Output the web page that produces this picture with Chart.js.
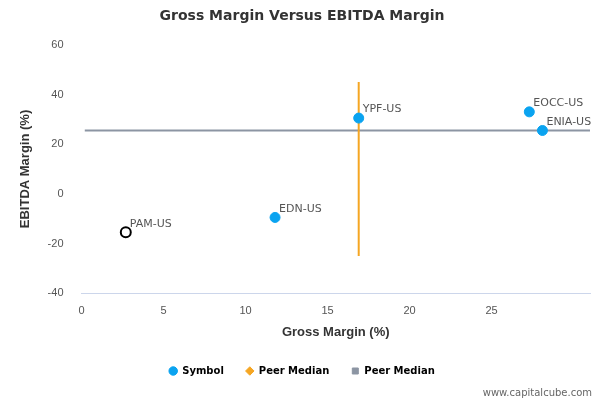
<!DOCTYPE html>
<html><head><meta charset="utf-8">
<script src="https://cdn.jsdelivr.net/npm/chart.js@4/dist/chart.umd.min.js"></script>
<style>body{margin:0;background:#fff}#w{width:600px;height:400px;position:relative}</style>
</head><body><div id="w"><canvas id="c"></canvas></div>
<script>
const symbols=["PAM-US","EDN-US","YPF-US","EOCC-US","ENIA-US"];
const grossMargin=[2.7,11.8,16.9,27.3,28.1];
const ebitdaMargin=[-15.5,-9.5,30.5,33,25.5];
const peerMedianX=16.9, peerMedianY=25.5;
const vLineY=[-25,45];
const hLineX=[0.2,31];
const pts=symbols.map((s,i)=>({x:grossMargin[i],y:ebitdaMargin[i]}));
const labelPlugin={id:'lbl',afterDatasetsDraw(ch){
  const c=ch.ctx,xs=ch.scales.x,ys=ch.scales.y;
  c.save();c.font='11px "DejaVu Sans",sans-serif';c.fillStyle='#555';c.textBaseline='bottom';
  symbols.forEach((s,i)=>c.fillText(s,xs.getPixelForValue(grossMargin[i])+4,ys.getPixelForValue(ebitdaMargin[i])-3));
  c.font='10px "DejaVu Sans",sans-serif';c.fillStyle='#666';c.textAlign='right';
  c.fillText('www.capitalcube.com',592,398);c.restore();}};
new Chart(document.getElementById('c'),{
  type:'scatter',
  data:{datasets:[
    {label:'Symbol',data:pts,pointRadius:5,pointHoverRadius:5,
     backgroundColor:pts.map((p,i)=>i===0?'#fff':'#0aa3f0'),
     borderColor:pts.map((p,i)=>i===0?'#000':'#0aa3f0'),borderWidth:pts.map((p,i)=>i===0?2:1),order:0},
    {label:'Peer Median',type:'line',data:vLineY.map(y=>({x:peerMedianX,y})),borderColor:'#f5a623',backgroundColor:'#f5a623',borderWidth:2,pointRadius:0,pointStyle:'rectRot',order:1},
    {label:'Peer Median',type:'line',data:hLineX.map(x=>({x,y:peerMedianY})),borderColor:'#8c95a3',backgroundColor:'#8c95a3',borderWidth:2,pointRadius:0,pointStyle:'rect',order:2}
  ]},
  options:{responsive:true,maintainAspectRatio:false,animation:false,
    layout:{padding:{left:14,right:10,top:0,bottom:14}},
    plugins:{
      title:{display:true,text:'Gross Margin Versus EBITDA Margin',font:{size:14,weight:'bold',family:'"DejaVu Sans",sans-serif'},color:'#333',padding:{top:8,bottom:20}},
      legend:{position:'bottom',labels:{usePointStyle:true,boxWidth:8,boxHeight:6,font:{size:10,weight:'bold',family:'"DejaVu Sans",sans-serif'},color:'#333',padding:22,
        generateLabels(ch){const st=['circle','rectRot','rect'],col=['#0aa3f0','#f5a623','#8c95a3'];
          return ch.data.datasets.map((d,i)=>({text:d.label,fillStyle:col[i],strokeStyle:col[i],lineWidth:1,pointStyle:st[i],datasetIndex:i}));}}},
      tooltip:{enabled:false}},
    scales:{
      x:{min:0,max:31,afterBuildTicks(a){a.ticks=a.ticks.filter(t=>t.value%5===0);},ticks:{stepSize:5,color:'#555',font:{size:11}},grid:{display:false},border:{color:'#ccd6eb'},
        title:{display:true,text:'Gross Margin (%)',font:{size:13,weight:'bold'},color:'#333'}},
      y:{min:-40,max:60,ticks:{stepSize:20,color:'#555',font:{size:11},padding:10},grid:{display:false},border:{display:false},
        title:{display:true,text:'EBITDA Margin (%)',font:{size:13,weight:'bold'},color:'#333'}}
    }},
  plugins:[labelPlugin]});
</script></body></html>
